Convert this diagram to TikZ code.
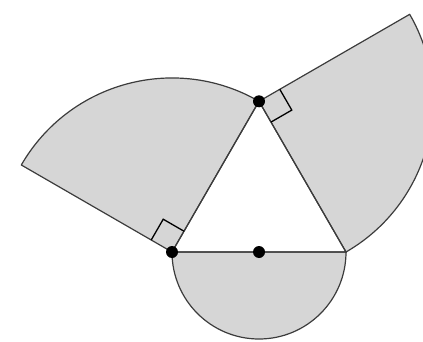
\documentclass[tikz,border=0pt]{standalone}
\usetikzlibrary{calc}
\definecolor{secfill}{RGB}{214,214,214}
\definecolor{lineclr}{RGB}{60,60,60}
\tikzset{
  sector/.style={fill=secfill,draw=lineclr,line width=1.2pt,line join=round},
  edge/.style={draw=lineclr,line width=1.2pt},
  dotmark/.style={circle,fill=black,inner sep=0pt,minimum size=12pt},
  rmark/.style={draw=black,line width=1.3pt}
}
\begin{document}
\begin{tikzpicture}[x=1pt,y=1pt]
\useasboundingbox (0,0) rectangle (423,341);
\clip (0,0) rectangle (423,341);
\coordinate (A) at (172,89);
\coordinate (B) at (346,89);
\coordinate (C) at (259,239.7);
\coordinate (M) at (259,89);
% semicircle
\path[sector] (B) arc[start angle=0,end angle=-180,radius=87] -- cycle;
% left sector centred at A
\path[sector] (A) -- (C) arc[start angle=60,end angle=150,radius=174] coordinate (L) -- cycle;
% right sector centred at C
\path[sector] (C) -- (B) arc[start angle=-60,end angle=30,radius=174] coordinate (R) -- cycle;
% triangle
\draw[edge] (A) -- (B) -- (C) -- cycle;
% right angle marks
\draw[rmark] ($(A)!24pt!(C)$) -- ++(150:24) -- ($(A)!24pt!(L)$);
\draw[rmark] ($(C)!24pt!(B)$) -- ++(30:24) -- ($(C)!24pt!(R)$);
% dots
\node[dotmark] (dA) at (A) {};
\node[dotmark] (dC) at (C) {};
\node[dotmark] (dM) at (M) {};
\end{tikzpicture}
\end{document}
